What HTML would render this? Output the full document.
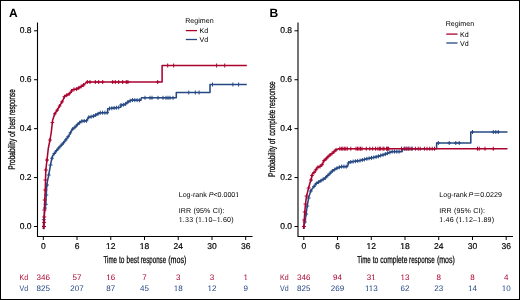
<!DOCTYPE html>
<html><head><meta charset="utf-8"><style>
html,body{margin:0;padding:0;background:#fff;}
body{width:520px;height:300px;overflow:hidden;}
svg{display:block;font-family:"Liberation Sans", sans-serif;will-change:transform;text-rendering:geometricPrecision;}
</style></head><body>
<svg width="520" height="300" viewBox="0 0 520 300">
<rect x="0" y="0" width="520" height="300" fill="#fff"/>
<text x="9.0" y="16.8" font-size="12" fill="#000" font-weight="bold">A</text>
<path d="M37.5,22.5 V236.5 H252.5" fill="none" stroke="#000" stroke-width="1.1"/>
<path d="M34.0,226.50 H37.5" stroke="#000" stroke-width="1"/>
<text x="31.6" y="228.8" font-size="8.5" fill="#000" text-anchor="end" stroke="#000" stroke-width="0.18">0.0</text>
<path d="M34.0,177.57 H37.5" stroke="#000" stroke-width="1"/>
<text x="31.6" y="179.875" font-size="8.5" fill="#000" text-anchor="end" stroke="#000" stroke-width="0.18">0.2</text>
<path d="M34.0,128.65 H37.5" stroke="#000" stroke-width="1"/>
<text x="31.6" y="130.95000000000002" font-size="8.5" fill="#000" text-anchor="end" stroke="#000" stroke-width="0.18">0.4</text>
<path d="M34.0,79.73 H37.5" stroke="#000" stroke-width="1"/>
<text x="31.6" y="82.02500000000002" font-size="8.5" fill="#000" text-anchor="end" stroke="#000" stroke-width="0.18">0.6</text>
<path d="M34.0,30.80 H37.5" stroke="#000" stroke-width="1"/>
<text x="31.6" y="33.10000000000001" font-size="8.5" fill="#000" text-anchor="end" stroke="#000" stroke-width="0.18">0.8</text>
<path d="M43.30,236.5 V240" stroke="#000" stroke-width="1"/>
<text x="43.30" y="249.4" font-size="8.5" fill="#000" text-anchor="middle" stroke="#000" stroke-width="0.18">0</text>
<path d="M77.03,236.5 V240" stroke="#000" stroke-width="1"/>
<text x="77.03" y="249.4" font-size="8.5" fill="#000" text-anchor="middle" stroke="#000" stroke-width="0.18">6</text>
<path d="M110.77,236.5 V240" stroke="#000" stroke-width="1"/>
<text x="110.77" y="249.4" font-size="8.5" fill="#000" text-anchor="middle" stroke="#000" stroke-width="0.18">12</text>
<path d="M144.50,236.5 V240" stroke="#000" stroke-width="1"/>
<text x="144.50" y="249.4" font-size="8.5" fill="#000" text-anchor="middle" stroke="#000" stroke-width="0.18">18</text>
<path d="M178.23,236.5 V240" stroke="#000" stroke-width="1"/>
<text x="178.23" y="249.4" font-size="8.5" fill="#000" text-anchor="middle" stroke="#000" stroke-width="0.18">24</text>
<path d="M211.97,236.5 V240" stroke="#000" stroke-width="1"/>
<text x="211.97" y="249.4" font-size="8.5" fill="#000" text-anchor="middle" stroke="#000" stroke-width="0.18">30</text>
<path d="M245.70,236.5 V240" stroke="#000" stroke-width="1"/>
<text x="245.70" y="249.4" font-size="8.5" fill="#000" text-anchor="middle" stroke="#000" stroke-width="0.18">36</text>
<text x="103.56" y="262.8" font-size="10" textLength="13.51" lengthAdjust="spacingAndGlyphs" stroke="#000" stroke-width="0.25">Time</text>
<text x="118.90" y="262.8" font-size="10" textLength="5.48" lengthAdjust="spacingAndGlyphs" stroke="#000" stroke-width="0.25">to</text>
<text x="126.58" y="262.8" font-size="10" textLength="12.37" lengthAdjust="spacingAndGlyphs" stroke="#000" stroke-width="0.25">best</text>
<text x="140.79" y="262.8" font-size="10" textLength="25.28" lengthAdjust="spacingAndGlyphs" stroke="#000" stroke-width="0.25">response</text>
<text x="168.26" y="262.8" font-size="10" textLength="18.18" lengthAdjust="spacingAndGlyphs" stroke="#000" stroke-width="0.25">(mos)</text>
<g transform="translate(14.7,0) rotate(-90)"><text x="-169.64" y="0" font-size="9.6" textLength="30.86" lengthAdjust="spacingAndGlyphs" stroke="#000" stroke-width="0.25">Probability</text><text x="-137.00" y="0" font-size="9.6" textLength="5.89" lengthAdjust="spacingAndGlyphs" stroke="#000" stroke-width="0.25">of</text><text x="-129.11" y="0" font-size="9.6" textLength="12.06" lengthAdjust="spacingAndGlyphs" stroke="#000" stroke-width="0.25">best</text><text x="-115.12" y="0" font-size="9.6" textLength="25.80" lengthAdjust="spacingAndGlyphs" stroke="#000" stroke-width="0.25">response</text></g>
<text x="185.2" y="22.6" font-size="7.1" fill="#000">Regimen</text>
<path d="M185.8,30.6 H197" stroke="#aa022f" stroke-width="1.3"/>
<path d="M185.8,39.5 H197" stroke="#264983" stroke-width="1.3"/>
<text x="199.6" y="33.2" font-size="7.1" fill="#000">Kd</text>
<text x="199.6" y="42.1" font-size="7.1" fill="#000">Vd</text>
<text x="178.7" y="197.2" font-size="7.1">Log-rank <tspan font-style="italic">P</tspan>&lt;0.0001</text>
<text x="178.7" y="212.9" font-size="7.1" textLength="45.8" lengthAdjust="spacing">IRR (95% CI):</text>
<text x="178.7" y="221.7" font-size="7.1" textLength="54.9" lengthAdjust="spacing">1.33 (1.10–1.60)</text>
<path d="M43.30,229.00 L43.40,226.50 L43.80,220.00 L45.00,208.00 L45.80,203.80 L46.40,192.00 L46.60,188.00 L47.30,182.00 L48.40,176.70 L49.60,170.00 L50.50,165.00 L51.50,160.00 L52.70,155.70 L55.00,152.50 L57.30,149.70 L60.50,146.00 L64.00,142.30 L66.80,138.50 L69.30,135.00 L72.00,129.70 L76.00,126.30 L77.30,124.70 L81.30,121.30 L86.70,120.70 L88.70,117.30 L94.00,116.00 L100.00,112.70 L105.30,112.70 L107.70,112.70 L107.70,108.80 L115.40,107.80 L120.80,107.30 L121.00,105.00 L124.60,104.70 L128.50,101.60 L131.50,100.10 L140.80,100.30 L141.50,97.80 L176.30,97.80 L176.30,92.50 L210.00,92.50 L210.00,84.50 L246.80,84.50" fill="none" stroke="#264983" stroke-width="1.55" stroke-linejoin="round"/>
<path d="M188.80,90.50V94.50M187.00,92.50H190.60M195.30,90.50V94.50M193.50,92.50H197.10M199.10,90.50V94.50M197.30,92.50H200.90M212.50,82.50V86.50M210.70,84.50H214.30M232.90,82.50V86.50M231.10,84.50H234.70M238.60,82.50V86.50M236.80,84.50H240.40M145.00,95.80V99.80M143.20,97.80H146.80M150.00,95.80V99.80M148.20,97.80H151.80M152.00,95.80V99.80M150.20,97.80H153.80M158.00,95.80V99.80M156.20,97.80H159.80M163.00,95.80V99.80M161.20,97.80H164.80M166.00,95.80V99.80M164.20,97.80H167.80M168.00,95.80V99.80M166.20,97.80H169.80M170.00,95.80V99.80M168.20,97.80H171.80M173.00,95.80V99.80M171.20,97.80H174.80M52.00,156.21V160.21M50.20,158.21H53.80M54.30,151.47V155.47M52.50,153.47H56.10M56.60,148.55V152.55M54.80,150.55H58.40M58.90,145.85V149.85M57.10,147.85H60.70M61.20,143.26V147.26M59.40,145.26H63.00M63.50,140.83V144.83M61.70,142.83H65.30M65.80,137.86V141.86M64.00,139.86H67.60M68.10,134.68V138.68M66.30,136.68H69.90M70.40,130.84V134.84M68.60,132.84H72.20M72.70,127.11V131.11M70.90,129.11H74.50M75.00,125.15V129.15M73.20,127.15H76.80M77.30,122.70V126.70M75.50,124.70H79.10M79.60,120.75V124.75M77.80,122.75H81.40M81.90,119.23V123.23M80.10,121.23H83.70M84.20,118.98V122.98M82.40,120.98H86.00M86.50,118.72V122.72M84.70,120.72H88.30M88.80,115.28V119.28M87.00,117.28H90.60M91.10,114.71V118.71M89.30,116.71H92.90M93.40,114.15V118.15M91.60,116.15H95.20M95.70,113.07V117.07M93.90,115.07H97.50M98.00,111.80V115.80M96.20,113.80H99.80M100.30,110.70V114.70M98.50,112.70H102.10M102.60,110.70V114.70M100.80,112.70H104.40M104.90,110.70V114.70M103.10,112.70H106.70M107.20,110.70V114.70M105.40,112.70H109.00M109.50,106.57V110.57M107.70,108.57H111.30M111.80,106.27V110.27M110.00,108.27H113.60M114.10,105.97V109.97M112.30,107.97H115.90M116.40,105.71V109.71M114.60,107.71H118.20M118.70,105.49V109.49M116.90,107.49H120.50M121.00,103.00V107.00M119.20,105.00H122.80M123.30,102.81V106.81M121.50,104.81H125.10M125.60,101.91V105.91M123.80,103.91H127.40M127.90,100.08V104.08M126.10,102.08H129.70M130.20,98.75V102.75M128.40,100.75H132.00M132.50,98.12V102.12M130.70,100.12H134.30M134.80,98.17V102.17M133.00,100.17H136.60M137.10,98.22V102.22M135.30,100.22H138.90M139.40,98.27V102.27M137.60,100.27H141.20M43.83,217.70V221.70M41.83,219.70H45.83M45.00,206.00V210.00M43.00,208.00H47.00M45.70,202.30V206.30M43.70,204.30H47.70M46.25,193.00V197.00M44.25,195.00H48.25M46.95,183.00V187.00M44.95,185.00H48.95M48.70,173.00V177.00M46.70,175.00H50.70M50.50,163.00V167.00M48.50,165.00H52.50" fill="none" stroke="#264983" stroke-width="1"/>
<path d="M43.90,229.30 L44.00,226.50 L44.30,216.00 L44.70,200.70 L45.30,190.00 L45.50,180.00 L45.80,170.00 L47.00,160.00 L48.30,148.30 L50.00,140.00 L51.30,132.00 L52.70,120.00 L54.70,114.00 L57.30,110.00 L60.00,105.30 L62.70,100.70 L64.70,96.00 L68.00,94.70 L70.70,92.70 L72.30,89.70 L77.00,89.00 L80.30,87.00 L84.00,84.70 L86.70,82.00 L162.10,82.00 L162.10,65.50 L246.80,65.50" fill="none" stroke="#aa022f" stroke-width="1.55" stroke-linejoin="round"/>
<path d="M87.30,80.00V84.00M85.50,82.00H89.10M90.00,80.00V84.00M88.20,82.00H91.80M95.30,80.00V84.00M93.50,82.00H97.10M98.70,80.00V84.00M96.90,82.00H100.50M102.70,80.00V84.00M100.90,82.00H104.50M112.70,80.00V84.00M110.90,82.00H114.50M115.30,80.00V84.00M113.50,82.00H117.10M118.70,80.00V84.00M116.90,82.00H120.50M122.70,80.00V84.00M120.90,82.00H124.50M126.30,80.00V84.00M124.50,82.00H128.10M127.90,80.00V84.00M126.10,82.00H129.70M157.70,80.00V84.00M155.90,82.00H159.50M167.70,63.50V67.50M165.90,65.50H169.50M173.70,63.50V67.50M171.90,65.50H175.50M216.60,63.50V67.50M214.80,65.50H218.40M224.70,63.50V67.50M222.90,65.50H226.50M50.00,138.00V142.00M48.20,140.00H51.80M52.40,120.57V124.57M50.60,122.57H54.20M54.80,111.85V115.85M53.00,113.85H56.60M57.20,108.15V112.15M55.40,110.15H59.00M59.60,104.00V108.00M57.80,106.00H61.40M62.00,99.89V103.89M60.20,101.89H63.80M64.40,94.71V98.71M62.60,96.71H66.20M66.80,93.17V97.17M65.00,95.17H68.60M69.20,91.81V95.81M67.40,93.81H71.00M71.60,89.01V93.01M69.80,91.01H73.40M74.00,87.45V91.45M72.20,89.45H75.80M76.40,87.09V91.09M74.60,89.09H78.20M78.80,85.91V89.91M77.00,87.91H80.60M81.20,84.44V88.44M79.40,86.44H83.00M83.60,82.95V86.95M81.80,84.95H85.40M44.00,224.50V228.50M42.00,226.50H46.00M44.12,220.40V224.40M42.12,222.40H46.12M44.27,215.00V219.00M42.27,217.00H46.27M44.46,208.00V212.00M42.46,210.00H46.46M44.74,198.00V202.00M42.74,200.00H46.74M45.30,188.00V192.00M43.30,190.00H47.30M45.50,178.00V182.00M43.50,180.00H47.50M45.80,168.00V172.00M43.80,170.00H47.80M47.00,158.00V162.00M45.00,160.00H49.00" fill="none" stroke="#aa022f" stroke-width="1"/>
<text x="19.6" y="280.1" font-size="8" fill="#aa022f" textLength="8.6" lengthAdjust="spacingAndGlyphs">Kd</text>
<text x="19.6" y="291.3" font-size="8" fill="#264983" textLength="8.6" lengthAdjust="spacingAndGlyphs">Vd</text>
<text x="43.30" y="280.1" font-size="8" fill="#aa022f" text-anchor="middle">346</text>
<text x="43.30" y="291.3" font-size="8" fill="#264983" text-anchor="middle">825</text>
<text x="77.03" y="280.1" font-size="8" fill="#aa022f" text-anchor="middle">57</text>
<text x="77.03" y="291.3" font-size="8" fill="#264983" text-anchor="middle">207</text>
<text x="110.77" y="280.1" font-size="8" fill="#aa022f" text-anchor="middle">16</text>
<text x="110.77" y="291.3" font-size="8" fill="#264983" text-anchor="middle">87</text>
<text x="144.50" y="280.1" font-size="8" fill="#aa022f" text-anchor="middle">7</text>
<text x="144.50" y="291.3" font-size="8" fill="#264983" text-anchor="middle">45</text>
<text x="178.23" y="280.1" font-size="8" fill="#aa022f" text-anchor="middle">3</text>
<text x="178.23" y="291.3" font-size="8" fill="#264983" text-anchor="middle">18</text>
<text x="211.97" y="280.1" font-size="8" fill="#aa022f" text-anchor="middle">3</text>
<text x="211.97" y="291.3" font-size="8" fill="#264983" text-anchor="middle">12</text>
<text x="245.70" y="280.1" font-size="8" fill="#aa022f" text-anchor="middle">1</text>
<text x="245.70" y="291.3" font-size="8" fill="#264983" text-anchor="middle">9</text>
<text x="269.5" y="16.8" font-size="12" fill="#000" font-weight="bold">B</text>
<path d="M298.0,22.5 V236.5 H513.0" fill="none" stroke="#000" stroke-width="1.1"/>
<path d="M294.5,226.50 H298.0" stroke="#000" stroke-width="1"/>
<text x="292.1" y="228.8" font-size="8.5" fill="#000" text-anchor="end" stroke="#000" stroke-width="0.18">0.0</text>
<path d="M294.5,177.57 H298.0" stroke="#000" stroke-width="1"/>
<text x="292.1" y="179.875" font-size="8.5" fill="#000" text-anchor="end" stroke="#000" stroke-width="0.18">0.2</text>
<path d="M294.5,128.65 H298.0" stroke="#000" stroke-width="1"/>
<text x="292.1" y="130.95000000000002" font-size="8.5" fill="#000" text-anchor="end" stroke="#000" stroke-width="0.18">0.4</text>
<path d="M294.5,79.73 H298.0" stroke="#000" stroke-width="1"/>
<text x="292.1" y="82.02500000000002" font-size="8.5" fill="#000" text-anchor="end" stroke="#000" stroke-width="0.18">0.6</text>
<path d="M294.5,30.80 H298.0" stroke="#000" stroke-width="1"/>
<text x="292.1" y="33.10000000000001" font-size="8.5" fill="#000" text-anchor="end" stroke="#000" stroke-width="0.18">0.8</text>
<path d="M303.80,236.5 V240" stroke="#000" stroke-width="1"/>
<text x="303.80" y="249.4" font-size="8.5" fill="#000" text-anchor="middle" stroke="#000" stroke-width="0.18">0</text>
<path d="M337.53,236.5 V240" stroke="#000" stroke-width="1"/>
<text x="337.53" y="249.4" font-size="8.5" fill="#000" text-anchor="middle" stroke="#000" stroke-width="0.18">6</text>
<path d="M371.27,236.5 V240" stroke="#000" stroke-width="1"/>
<text x="371.27" y="249.4" font-size="8.5" fill="#000" text-anchor="middle" stroke="#000" stroke-width="0.18">12</text>
<path d="M405.00,236.5 V240" stroke="#000" stroke-width="1"/>
<text x="405.00" y="249.4" font-size="8.5" fill="#000" text-anchor="middle" stroke="#000" stroke-width="0.18">18</text>
<path d="M438.73,236.5 V240" stroke="#000" stroke-width="1"/>
<text x="438.73" y="249.4" font-size="8.5" fill="#000" text-anchor="middle" stroke="#000" stroke-width="0.18">24</text>
<path d="M472.47,236.5 V240" stroke="#000" stroke-width="1"/>
<text x="472.47" y="249.4" font-size="8.5" fill="#000" text-anchor="middle" stroke="#000" stroke-width="0.18">30</text>
<path d="M506.20,236.5 V240" stroke="#000" stroke-width="1"/>
<text x="506.20" y="249.4" font-size="8.5" fill="#000" text-anchor="middle" stroke="#000" stroke-width="0.18">36</text>
<text x="357.26" y="262.8" font-size="10" textLength="13.40" lengthAdjust="spacingAndGlyphs" stroke="#000" stroke-width="0.25">Time</text>
<text x="372.70" y="262.8" font-size="10" textLength="5.69" lengthAdjust="spacingAndGlyphs" stroke="#000" stroke-width="0.25">to</text>
<text x="380.22" y="262.8" font-size="10" textLength="27.18" lengthAdjust="spacingAndGlyphs" stroke="#000" stroke-width="0.25">complete</text>
<text x="409.09" y="262.8" font-size="10" textLength="25.59" lengthAdjust="spacingAndGlyphs" stroke="#000" stroke-width="0.25">response</text>
<text x="436.97" y="262.8" font-size="10" textLength="17.87" lengthAdjust="spacingAndGlyphs" stroke="#000" stroke-width="0.25">(mos)</text>
<g transform="translate(275.2,0) rotate(-90)"><text x="-177.05" y="0" font-size="9.6" textLength="31.26" lengthAdjust="spacingAndGlyphs" stroke="#000" stroke-width="0.25">Probability</text><text x="-144.29" y="0" font-size="9.6" textLength="5.68" lengthAdjust="spacingAndGlyphs" stroke="#000" stroke-width="0.25">of</text><text x="-135.87" y="0" font-size="9.6" textLength="26.26" lengthAdjust="spacingAndGlyphs" stroke="#000" stroke-width="0.25">complete</text><text x="-108.23" y="0" font-size="9.6" textLength="26.72" lengthAdjust="spacingAndGlyphs" stroke="#000" stroke-width="0.25">response</text></g>
<text x="445.7" y="26.1" font-size="7.1" fill="#000">Regimen</text>
<path d="M446.3,34.1 H457.5" stroke="#aa022f" stroke-width="1.3"/>
<path d="M446.3,43.0 H457.5" stroke="#264983" stroke-width="1.3"/>
<text x="460.1" y="36.7" font-size="7.1" fill="#000">Kd</text>
<text x="460.1" y="45.6" font-size="7.1" fill="#000">Vd</text>
<text x="439.3" y="197.2" font-size="7.1">Log-rank</text>
<text x="468.5" y="197.2" font-size="7.1" font-style="italic">P</text>
<text x="474.11" y="197.2" font-size="7.1" textLength="5.89" lengthAdjust="spacingAndGlyphs">=</text>
<text x="480.2" y="197.2" font-size="7.1">0.0229</text>
<text x="439.2" y="212.9" font-size="7.1" textLength="45.8" lengthAdjust="spacing">IRR (95% CI):</text>
<text x="439.2" y="221.7" font-size="7.1" textLength="54.9" lengthAdjust="spacing">1.46 (1.12–1.89)</text>
<path d="M303.60,229.00 L303.70,226.60 L304.80,222.00 L305.80,216.40 L306.70,209.50 L307.50,204.30 L308.70,197.30 L311.00,190.40 L313.60,187.00 L316.20,183.50 L320.50,181.00 L325.40,177.90 L332.30,171.00 L336.70,168.30 L341.00,166.60 L347.50,166.60 L348.70,162.30 L355.00,161.30 L360.00,160.60 L366.90,158.80 L375.60,157.10 L384.20,154.50 L392.00,151.60 L402.20,151.60 L402.20,148.70 L436.60,148.70 L436.60,143.00 L470.80,143.00 L470.80,132.00 L507.50,132.00" fill="none" stroke="#264983" stroke-width="1.55" stroke-linejoin="round"/>
<path d="M438.30,141.00V145.00M436.50,143.00H440.10M449.20,141.00V145.00M447.40,143.00H451.00M455.80,141.00V145.00M454.00,143.00H457.60M459.20,141.00V145.00M457.40,143.00H461.00M472.50,130.00V134.00M470.70,132.00H474.30M493.30,130.00V134.00M491.50,132.00H495.10M495.80,130.00V134.00M494.00,132.00H497.60M498.30,130.00V134.00M496.50,132.00H500.10M404.00,146.70V150.70M402.20,148.70H405.80M406.00,146.70V150.70M404.20,148.70H407.80M408.00,146.70V150.70M406.20,148.70H409.80M410.00,146.70V150.70M408.20,148.70H411.80M412.00,146.70V150.70M410.20,148.70H413.80M314.00,184.46V188.46M312.20,186.46H315.80M316.30,181.44V185.44M314.50,183.44H318.10M318.60,180.10V184.10M316.80,182.10H320.40M320.90,178.75V182.75M319.10,180.75H322.70M323.20,177.29V181.29M321.40,179.29H325.00M325.50,175.80V179.80M323.70,177.80H327.30M327.80,173.50V177.50M326.00,175.50H329.60M330.10,171.20V175.20M328.30,173.20H331.90M332.40,168.94V172.94M330.60,170.94H334.20M334.70,167.53V171.53M332.90,169.53H336.50M337.00,166.18V170.18M335.20,168.18H338.80M339.30,165.27V169.27M337.50,167.27H341.10M341.60,164.60V168.60M339.80,166.60H343.40M343.90,164.60V168.60M342.10,166.60H345.70M346.20,164.60V168.60M344.40,166.60H348.00M348.50,161.02V165.02M346.70,163.02H350.30M350.80,159.97V163.97M349.00,161.97H352.60M353.10,159.60V163.60M351.30,161.60H354.90M355.40,159.24V163.24M353.60,161.24H357.20M357.70,158.92V162.92M355.90,160.92H359.50M360.00,158.60V162.60M358.20,160.60H361.80M362.30,158.00V162.00M360.50,160.00H364.10M364.60,157.40V161.40M362.80,159.40H366.40M366.90,156.80V160.80M365.10,158.80H368.70M369.20,156.35V160.35M367.40,158.35H371.00M371.50,155.90V159.90M369.70,157.90H373.30M373.80,155.45V159.45M372.00,157.45H375.60M376.10,154.95V158.95M374.30,156.95H377.90M378.40,154.25V158.25M376.60,156.25H380.20M380.70,153.56V157.56M378.90,155.56H382.50M383.00,152.86V156.86M381.20,154.86H384.80M385.30,152.09V156.09M383.50,154.09H387.10M387.60,151.24V155.24M385.80,153.24H389.40M389.90,150.38V154.38M388.10,152.38H391.70M392.20,149.60V153.60M390.40,151.60H394.00M394.50,149.60V153.60M392.70,151.60H396.30M396.80,149.60V153.60M395.00,151.60H398.60M399.10,149.60V153.60M397.30,151.60H400.90M304.80,220.00V224.00M302.80,222.00H306.80M306.11,212.00V216.00M304.11,214.00H308.11M307.24,204.00V208.00M305.24,206.00H309.24M308.58,196.00V200.00M306.58,198.00H310.58M310.80,189.00V193.00M308.80,191.00H312.80" fill="none" stroke="#264983" stroke-width="1"/>
<path d="M303.80,229.00 L303.90,226.60 L304.60,214.70 L305.30,206.00 L306.30,197.30 L308.00,190.40 L309.80,183.50 L311.00,180.00 L312.30,174.20 L315.00,171.50 L317.20,167.50 L320.00,166.50 L322.50,164.20 L323.80,160.80 L325.80,159.20 L327.20,157.50 L330.00,155.00 L333.30,152.50 L335.80,150.00 L337.50,149.20 L338.70,148.70 L507.50,148.70" fill="none" stroke="#aa022f" stroke-width="1.55" stroke-linejoin="round"/>
<path d="M339.80,146.70V150.70M338.00,148.70H341.60M341.30,146.70V150.70M339.50,148.70H343.10M342.80,146.70V150.70M341.00,148.70H344.60M344.30,146.70V150.70M342.50,148.70H346.10M345.80,146.70V150.70M344.00,148.70H347.60M347.30,146.70V150.70M345.50,148.70H349.10M350.80,146.70V150.70M349.00,148.70H352.60M356.00,146.70V150.70M354.20,148.70H357.80M357.50,146.70V150.70M355.70,148.70H359.30M359.00,146.70V150.70M357.20,148.70H360.80M360.50,146.70V150.70M358.70,148.70H362.30M362.00,146.70V150.70M360.20,148.70H363.80M366.30,146.70V150.70M364.50,148.70H368.10M369.80,146.70V150.70M368.00,148.70H371.60M372.70,146.70V150.70M370.90,148.70H374.50M375.60,146.70V150.70M373.80,148.70H377.40M377.90,146.70V150.70M376.10,148.70H379.70M379.60,146.70V150.70M377.80,148.70H381.40M383.00,146.70V150.70M381.20,148.70H384.80M386.50,146.70V150.70M384.70,148.70H388.30M388.00,146.70V150.70M386.20,148.70H389.80M380.70,146.70V150.70M378.90,148.70H382.50M384.00,146.70V150.70M382.20,148.70H385.80M387.30,146.70V150.70M385.50,148.70H389.10M388.70,146.70V150.70M386.90,148.70H390.50M401.50,146.70V150.70M399.70,148.70H403.30M404.80,146.70V150.70M403.00,148.70H406.60M406.80,146.70V150.70M405.00,148.70H408.60M408.80,146.70V150.70M407.00,148.70H410.60M412.00,146.70V150.70M410.20,148.70H413.80M415.40,146.70V150.70M413.60,148.70H417.20M418.20,146.70V150.70M416.40,148.70H420.00M420.20,146.70V150.70M418.40,148.70H422.00M424.40,146.70V150.70M422.60,148.70H426.20M427.00,146.70V150.70M425.20,148.70H428.80M429.70,146.70V150.70M427.90,148.70H431.50M432.20,146.70V150.70M430.40,148.70H434.00M434.50,146.70V150.70M432.70,148.70H436.30M477.50,146.70V150.70M475.70,148.70H479.30M479.20,146.70V150.70M477.40,148.70H481.00M485.00,146.70V150.70M483.20,148.70H486.80M493.30,146.70V150.70M491.50,148.70H495.10M312.00,173.54V177.54M310.20,175.54H313.80M314.00,170.50V174.50M312.20,172.50H315.80M316.00,167.68V171.68M314.20,169.68H317.80M318.00,165.21V169.21M316.20,167.21H319.80M320.00,164.50V168.50M318.20,166.50H321.80M322.00,162.66V166.66M320.20,164.66H323.80M324.00,158.64V162.64M322.20,160.64H325.80M326.00,156.96V160.96M324.20,158.96H327.80M328.00,154.79V158.79M326.20,156.79H329.80M330.00,153.00V157.00M328.20,155.00H331.80M332.00,151.48V155.48M330.20,153.48H333.80M334.00,149.80V153.80M332.20,151.80H335.80M336.00,147.91V151.91M334.20,149.91H337.80M303.91,224.50V228.50M301.91,226.50H305.91M304.29,218.00V222.00M302.29,220.00H306.29M304.82,210.00V214.00M302.82,212.00H306.82M305.53,202.00V206.00M303.53,204.00H307.53M306.62,194.00V198.00M304.62,196.00H308.62M308.63,186.00V190.00M306.63,188.00H310.63M311.00,178.00V182.00M309.00,180.00H313.00" fill="none" stroke="#aa022f" stroke-width="1"/>
<text x="280.1" y="280.1" font-size="8" fill="#aa022f" textLength="8.6" lengthAdjust="spacingAndGlyphs">Kd</text>
<text x="280.1" y="291.3" font-size="8" fill="#264983" textLength="8.6" lengthAdjust="spacingAndGlyphs">Vd</text>
<text x="303.80" y="280.1" font-size="8" fill="#aa022f" text-anchor="middle">346</text>
<text x="303.80" y="291.3" font-size="8" fill="#264983" text-anchor="middle">825</text>
<text x="337.53" y="280.1" font-size="8" fill="#aa022f" text-anchor="middle">94</text>
<text x="337.53" y="291.3" font-size="8" fill="#264983" text-anchor="middle">269</text>
<text x="371.27" y="280.1" font-size="8" fill="#aa022f" text-anchor="middle">31</text>
<text x="371.27" y="291.3" font-size="8" fill="#264983" text-anchor="middle">113</text>
<text x="405.00" y="280.1" font-size="8" fill="#aa022f" text-anchor="middle">13</text>
<text x="405.00" y="291.3" font-size="8" fill="#264983" text-anchor="middle">62</text>
<text x="438.73" y="280.1" font-size="8" fill="#aa022f" text-anchor="middle">8</text>
<text x="438.73" y="291.3" font-size="8" fill="#264983" text-anchor="middle">23</text>
<text x="472.47" y="280.1" font-size="8" fill="#aa022f" text-anchor="middle">8</text>
<text x="472.47" y="291.3" font-size="8" fill="#264983" text-anchor="middle">14</text>
<text x="506.20" y="280.1" font-size="8" fill="#aa022f" text-anchor="middle">4</text>
<text x="506.20" y="291.3" font-size="8" fill="#264983" text-anchor="middle">10</text>
<g><rect x="106.53" y="248.06" width="1.29" height="1.74" fill="#fff"/><rect x="109.27" y="248.06" width="1.22" height="1.74" fill="#fff"/><rect x="140.26" y="248.06" width="1.29" height="1.74" fill="#fff"/><rect x="143.00" y="248.06" width="1.22" height="1.74" fill="#fff"/><rect x="235.68" y="195.97" width="1.04" height="1.63" fill="#fff"/><rect x="238.06" y="195.97" width="0.99" height="1.63" fill="#fff"/><rect x="179.09" y="220.47" width="1.04" height="1.63" fill="#fff"/><rect x="181.46" y="220.47" width="0.99" height="1.63" fill="#fff"/><rect x="198.37" y="220.47" width="1.04" height="1.63" fill="#fff"/><rect x="200.74" y="220.47" width="0.99" height="1.63" fill="#fff"/><rect x="204.66" y="220.47" width="1.04" height="1.63" fill="#fff"/><rect x="207.03" y="220.47" width="0.99" height="1.63" fill="#fff"/><rect x="217.06" y="220.47" width="1.04" height="1.63" fill="#fff"/><rect x="219.43" y="220.47" width="0.99" height="1.63" fill="#fff"/><rect x="106.78" y="278.80" width="1.20" height="1.70" fill="#fff"/><rect x="109.39" y="278.80" width="1.14" height="1.70" fill="#fff"/><rect x="174.24" y="290.00" width="1.20" height="1.70" fill="#fff"/><rect x="176.85" y="290.00" width="1.14" height="1.70" fill="#fff"/><rect x="207.98" y="290.00" width="1.20" height="1.70" fill="#fff"/><rect x="210.59" y="290.00" width="1.14" height="1.70" fill="#fff"/><rect x="243.93" y="278.80" width="1.20" height="1.70" fill="#fff"/><rect x="246.54" y="278.80" width="1.14" height="1.70" fill="#fff"/><rect x="367.03" y="248.06" width="1.29" height="1.74" fill="#fff"/><rect x="369.77" y="248.06" width="1.22" height="1.74" fill="#fff"/><rect x="400.76" y="248.06" width="1.29" height="1.74" fill="#fff"/><rect x="403.50" y="248.06" width="1.22" height="1.74" fill="#fff"/><rect x="439.59" y="220.47" width="1.04" height="1.63" fill="#fff"/><rect x="441.96" y="220.47" width="0.99" height="1.63" fill="#fff"/><rect x="458.87" y="220.47" width="1.04" height="1.63" fill="#fff"/><rect x="461.24" y="220.47" width="0.99" height="1.63" fill="#fff"/><rect x="465.16" y="220.47" width="1.04" height="1.63" fill="#fff"/><rect x="467.53" y="220.47" width="0.99" height="1.63" fill="#fff"/><rect x="477.56" y="220.47" width="1.04" height="1.63" fill="#fff"/><rect x="479.93" y="220.47" width="0.99" height="1.63" fill="#fff"/><rect x="371.71" y="278.80" width="1.20" height="1.70" fill="#fff"/><rect x="374.32" y="278.80" width="1.14" height="1.70" fill="#fff"/><rect x="365.35" y="290.00" width="1.20" height="1.70" fill="#fff"/><rect x="367.96" y="290.00" width="1.14" height="1.70" fill="#fff"/><rect x="369.19" y="290.00" width="1.20" height="1.70" fill="#fff"/><rect x="371.80" y="290.00" width="1.14" height="1.70" fill="#fff"/><rect x="401.01" y="278.80" width="1.20" height="1.70" fill="#fff"/><rect x="403.62" y="278.80" width="1.14" height="1.70" fill="#fff"/><rect x="468.48" y="290.00" width="1.20" height="1.70" fill="#fff"/><rect x="471.09" y="290.00" width="1.14" height="1.70" fill="#fff"/><rect x="502.21" y="290.00" width="1.20" height="1.70" fill="#fff"/><rect x="504.82" y="290.00" width="1.14" height="1.70" fill="#fff"/></g>
<rect x="0.5" y="0.5" width="519" height="299" fill="none" stroke="#000" stroke-width="1"/>
</svg>
</body></html>
